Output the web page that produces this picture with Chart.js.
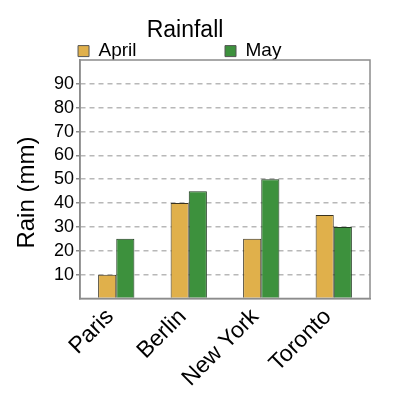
<!DOCTYPE html>
<html><head><meta charset="utf-8">
<script src="https://cdn.jsdelivr.net/npm/chart.js@4"></script>
<style>html,body{margin:0;padding:0;background:#fff}</style>
</head><body>
<canvas id="c" width="400" height="400" style="width:400px;height:400px;display:block"></canvas>
<script>
const categories = ['Paris', 'Berlin', 'New York', 'Toronto'];
const aprilRain = [10, 40, 25, 35];
const mayRain = [25, 45, 50, 30];
const seriesNames = ['April', 'May'];
const yTickValues = [10, 20, 30, 40, 50, 60, 70, 80, 90];
const chartTitle = 'Rainfall';
const yAxisTitle = 'Rain (mm)';

const FONT = "'Liberation Sans', Arial, sans-serif";

const framePlugin = {
  id: 'frame',
  afterDatasetsDraw(chart) {
    const { ctx, chartArea: a } = chart;
    ctx.save();
    ctx.strokeStyle = '#8c8c8c';
    ctx.lineWidth = 1.5;
    ctx.setLineDash([]);
    ctx.strokeRect(a.left, a.top, a.right - a.left, a.bottom - a.top);
    ctx.restore();
  }
};

const legendPad = ['                ', '  '];

new Chart(document.getElementById('c'), {
  type: 'bar',
  data: {
    labels: categories,
    datasets: [
      { label: seriesNames[0], data: aprilRain, backgroundColor: '#e0b04b', borderColor: '#3a3320', borderWidth: 1 },
      { label: seriesNames[1], data: mayRain, backgroundColor: '#3d913d', borderColor: '#1f3a1f', borderWidth: 1 }
    ]
  },
  options: {
    responsive: false,
    devicePixelRatio: 1,
    animation: false,
    layout: { padding: { left: 0, right: 30, top: 0, bottom: 11 } },
    datasets: { bar: { categoryPercentage: 0.5, barPercentage: 1.0 } },
    plugins: {
      title: {
        display: true, text: chartTitle, color: '#000',
        font: { family: FONT, size: 23, weight: 'normal' },
        padding: { top: 16.5, bottom: -6.5 }
      },
      legend: {
        display: true,
        maxHeight: 22.4,
        labels: {
          color: '#000',
          font: { family: FONT, size: 19 },
          boxWidth: 11, boxHeight: 11, padding: 4,
          generateLabels(chart) {
            const items = Chart.defaults.plugins.legend.labels.generateLabels(chart);
            items.forEach((it, i) => { it.text = it.text + legendPad[i]; it.lineWidth = 1; it.strokeStyle = '#555'; });
            return items;
          }
        }
      },
      tooltip: { enabled: false }
    },
    scales: {
      x: {
        grid: { display: false },
        border: { display: true, color: '#8c8c8c', width: 1.5 },
        ticks: {
          color: '#000', font: { family: FONT, size: 23 },
          minRotation: 45, maxRotation: 45, padding: -3, labelOffset: -6, autoSkip: false
        }
      },
      y: {
        min: 0, max: 100,
        afterFit(scale) { scale.width = 80; },
        border: { display: true, color: '#8c8c8c', width: 1.5, dash: [5, 4] },
        grid: {
          drawOnChartArea: true,
          color: (c) => (c.tick && yTickValues.includes(c.tick.value)) ? '#b8b8b8' : 'rgba(0,0,0,0)',
          tickColor: (c) => (c.tick && yTickValues.includes(c.tick.value)) ? '#8c8c8c' : 'rgba(0,0,0,0)',
          lineWidth: 1.5, tickLength: 4, tickBorderDash: []
        },
        ticks: {
          stepSize: 10, autoSkip: false, color: '#000', padding: 2,
          font: { family: FONT, size: 18 },
          callback: (v) => yTickValues.includes(v) ? String(v) : ''
        },
        title: {
          display: true, text: yAxisTitle + '    ', color: '#000',
          font: { family: FONT, size: 24 }, padding: { top: 13, bottom: 0 }
        }
      }
    }
  },
  plugins: [framePlugin]
});
</script>
</body></html>
